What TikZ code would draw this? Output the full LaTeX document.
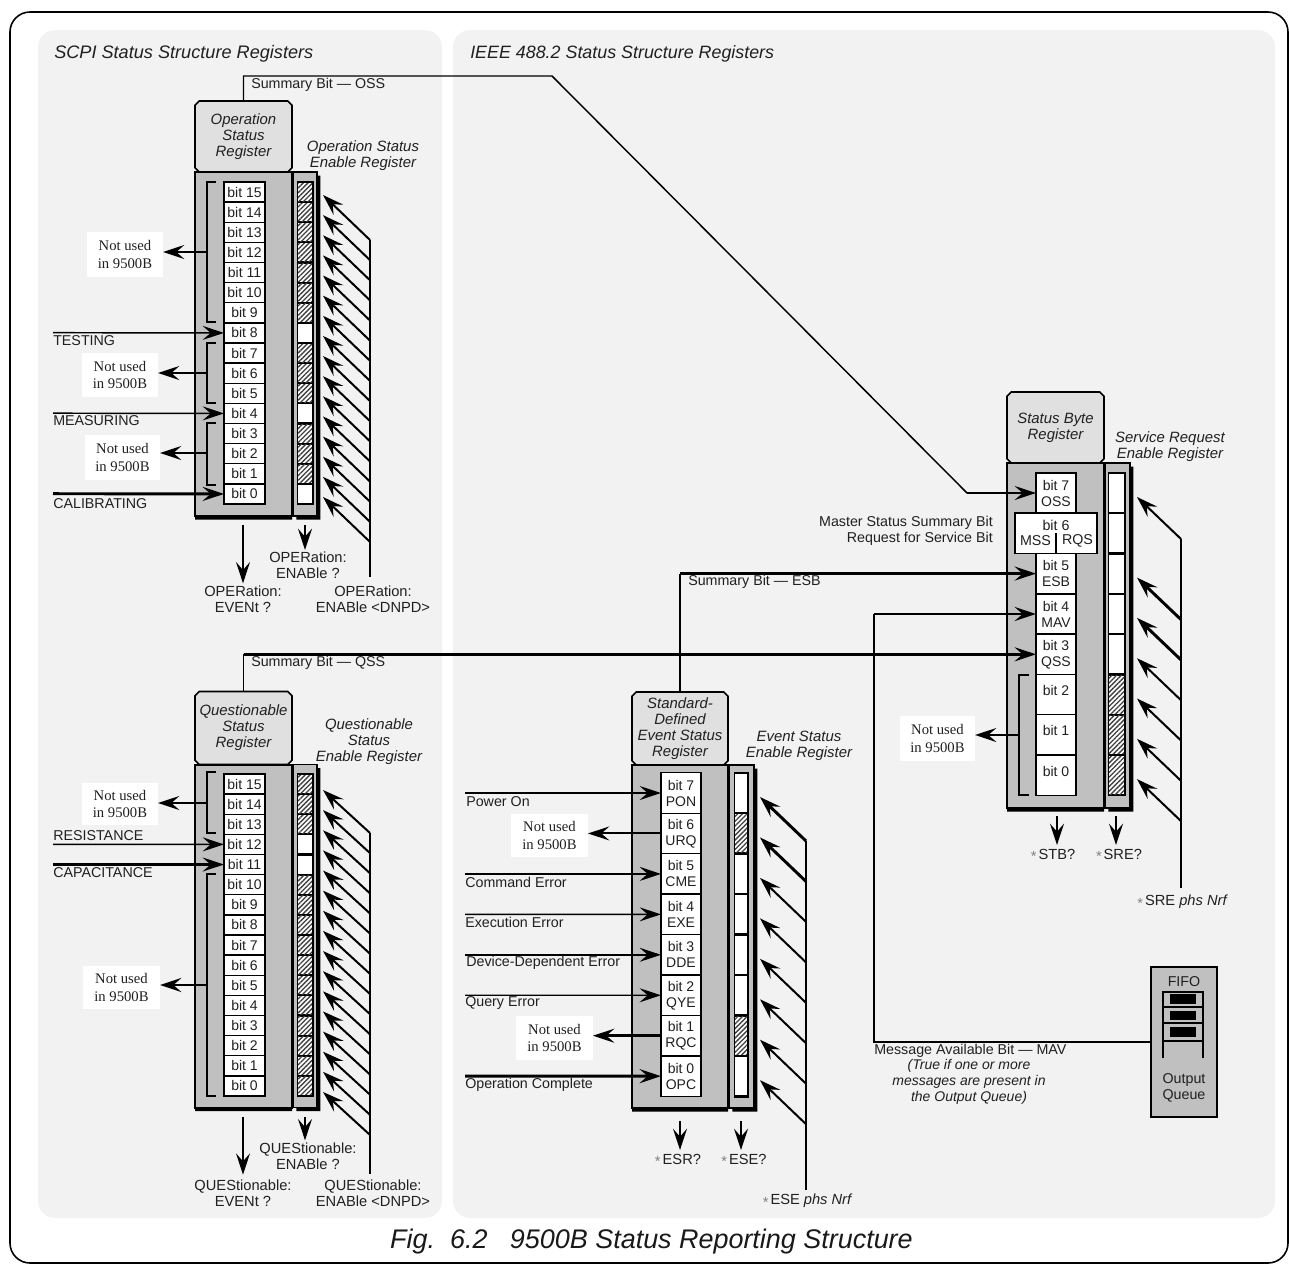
\documentclass[tikz,border=0pt]{standalone}
\usepackage{fontspec}
\setmainfont{Liberation Sans}
\newfontfamily\nuserif{Liberation Serif}
\usetikzlibrary{arrows.meta,shapes.misc,shadows,patterns.meta,calc}
\definecolor{panelbg}{HTML}{F2F2F2}
\definecolor{headbg}{HTML}{E0E0E0}
\definecolor{bodybg}{HTML}{C0C0C0}
\definecolor{inktxt}{HTML}{202020}
\newcommand{\sstar}{{\color{gray}\raisebox{-.3ex}{*}\kern1.5pt}}
\tikzset{
  x=0.75pt,y=-0.75pt,
  wh/.style 2 args={minimum width=#1*.75pt,minimum height=#2*.75pt,inner sep=0pt,outer sep=0pt},
  panel/.style={fill=panelbg,rounded corners=13pt},
  chbox/.style={chamfered rectangle,chamfered rectangle xsep=1.6pt,chamfered rectangle ysep=1.6pt,draw=black,line width=1.2pt},
  head/.style={chbox,fill=headbg,align=center,text=inktxt,font=\fontsize{11.2}{12}\selectfont\itshape},
  body/.style={chbox,fill=bodybg,line width=1.5pt,general shadow={fill=black,shadow yshift=-2.8pt}},
  enbody/.style={chbox,fill=bodybg,general shadow={fill=black,shadow yshift=-2.8pt,shadow xshift=2.6pt}},
  bitbox/.style={draw=black,line width=1pt,fill=white,align=center,text=inktxt,font=\fontsize{10.5}{12}\selectfont},
  cellon/.style={fill=white},
  cellhatch/.style={preaction={fill=white},pattern={Lines[angle=45,distance=2.5pt,line width=1pt]},pattern color=black!75},
  lbl/.style={inner sep=0pt,align=left,text=inktxt,font=\fontsize{10.7}{12}\selectfont},
  cmd/.style={inner sep=0pt,align=center,text=inktxt,font=\fontsize{11}{11.6}\selectfont},
  ttl/.style={inner sep=0pt,align=center,text=inktxt,font=\fontsize{11.2}{12}\selectfont\itshape},
  nubox/.style={fill=white,align=center,text=inktxt,font=\fontsize{11}{13.3}\selectfont\nuserif},
  wire/.style={line width=1.1pt,draw=black},
  arr/.style={-{Stealth[length=16pt,width=10.5pt,inset=6pt]},line width=1.1pt,draw=black},
  thickarr/.style={arr,line width=2.2pt},
  midarr/.style={arr,line width=1.5pt},
  brk/.style={line width=1.5pt,draw=black},
}
\begin{document}
\begin{tikzpicture}
\useasboundingbox (0,0) rectangle (1289,1264);
\fill[white] (0,0) rectangle (1289,1264);
\draw[line width=1.2pt,rounded corners=15pt] (10,12) rectangle (1288,1263);

% panels
\node[panel,wh={404}{1188}] (pLeft) at (240,624) {};
\node[panel,wh={822}{1188}] (pRight) at (864,624) {};
\node[inner sep=0pt,anchor=west,text=inktxt,font=\fontsize{13.6}{14}\selectfont\itshape] (tLeft) at (54,53.5) {SCPI Status Structure Registers};
\node[inner sep=0pt,anchor=west,text=inktxt,font=\fontsize{13.4}{14}\selectfont\itshape] (tRight) at (470,53.5) {IEEE 488.2 Status Structure Registers};
\node[inner sep=0pt,anchor=east,text=black!90,font=\fontsize{20.2}{22}\selectfont\itshape] (caption) at (913,1242) {Fig.~~6.2~~~9500B Status Reporting Structure};

%====== Operation register
\node[body,wh={97}{344}] (opB) at (243.5,344) {};
\node[enbody,wh={24}{344}] (opEB) at (305,344) {};
\node[head,wh={97}{71}] (opH) at (243.5,136.5) {Operation\\Status\\Register};
\fill[black] (296.5,181) rectangle (314,505);
\foreach \i in {15,14,...,0}{
  \pgfmathsetmacro{\yy}{192+20.13*(15-\i)}
  \node[bitbox,wh={41}{20.13}] (op\i) at (244.5,\yy) {bit \i};
}
\foreach \i/\st in {15/cellhatch,14/cellhatch,13/cellhatch,12/cellhatch,11/cellhatch,10/cellhatch,9/cellhatch,8/cellon,7/cellhatch,6/cellhatch,5/cellhatch,4/cellon,3/cellhatch,2/cellhatch,1/cellhatch,0/cellon}{
  \pgfmathsetmacro{\yy}{192+20.13*(15-\i)}
  \node[\st,wh={14}{18}] (opE\i) at (305,\yy) {};
  \draw[midarr] ([shift={(58,48)}]opE\i.east) -- ([shift={(11,3)}]opE\i.east);
}
\coordinate (opRa) at (370,240);
\coordinate (opRb) at (370,577);
\draw[wire] (opRa) -- (opRb);
\node[ttl] (opET) at (363,156) {Operation Status\\Enable Register};
% brackets
\coordinate (opK1) at (207,252);
\draw[brk] (216,182) -- (207,182) -- (207,322) -- (216,322);
\draw[brk] (216,343) -- (207,343) -- (207,403) -- (216,403);
\draw[brk] (216,423) -- (207,423) -- (207,485) -- (216,485);
\node[nubox,wh={76}{45}] (opN1) at (125,254.5) {Not used\\in 9500B};
\node[nubox,wh={76}{44}] (opN2) at (120,375) {Not used\\in 9500B};
\node[nubox,wh={75}{45}] (opN3) at (122.5,457.5) {Not used\\in 9500B};
\coordinate (opK2) at (207,373);
\coordinate (opK3) at (207,453);
\draw[arr] (opK1) -- (opN1.east |- opK1);
\draw[arr] (opK2) -- (opN2.east |- opK2);
\draw[arr] (opK3) -- (opN3.east |- opK3);
% inputs
\coordinate (inTest) at (53,332.7);
\coordinate (inMeas) at (53,413.2);
\coordinate (inCal) at (53,493.7);
\draw[arr] (inTest) -- (op8.west);
\draw[arr] (inMeas) -- (op4.west);
\draw[thickarr] (inCal) -- (op0.west);
\node[lbl,anchor=west] (lTest) at (53,341) {TESTING};
\node[lbl,anchor=west] (lMeas) at (53,421) {MEASURING};
\node[lbl,anchor=west] (lCal) at (53,504) {CALIBRATING};
% bottom
\coordinate (opA1) at (243,525);
\coordinate (opA2) at (305,525);
\node[cmd,anchor=north] (opC1) at (243,586) {OPERation:\\EVENt ?};
\node[cmd,anchor=north] (opC2) at (308,552) {OPERation:\\ENABle ?};
\node[cmd,anchor=north] (opC3) at (373,586) {OPERation:\\ENABle <DNPD>};
\draw[arr,shorten >=2pt] (opA1) -- (opC1.north -| opA1);
\draw[arr,shorten >=1.5pt] (opA2) -- (opC2.north -| opA2);

%====== Questionable register
\node[body,wh={97}{343}] (qB) at (243.5,936) {};
\node[enbody,wh={24}{343}] (qEB) at (305,936) {};
\node[head,wh={97}{73}] (qH) at (243.5,728) {Questionable\\Status\\Register};
\fill[black] (296.5,773) rectangle (314,1097);
\foreach \i in {15,14,...,0}{
  \pgfmathsetmacro{\yy}{784+20.13*(15-\i)}
  \node[bitbox,wh={41}{20.13}] (q\i) at (244.5,\yy) {bit \i};
}
\foreach \i/\st in {15/cellhatch,14/cellhatch,13/cellhatch,12/cellon,11/cellon,10/cellhatch,9/cellhatch,8/cellhatch,7/cellhatch,6/cellhatch,5/cellhatch,4/cellhatch,3/cellhatch,2/cellhatch,1/cellhatch,0/cellhatch}{
  \pgfmathsetmacro{\yy}{784+20.13*(15-\i)}
  \node[\st,wh={14}{18}] (qE\i) at (305,\yy) {};
  \draw[midarr] ([shift={(58,49)}]qE\i.east) -- ([shift={(11,6)}]qE\i.east);
}
\coordinate (qRa) at (370,833);
\coordinate (qRb) at (370,1174);
\draw[wire] (qRa) -- (qRb);
\node[ttl] (qET) at (369,742) {Questionable\\Status\\Enable Register};
\draw[brk] (216,772) -- (207,772) -- (207,833) -- (216,833);
\draw[brk] (216,874) -- (207,874) -- (207,1096) -- (216,1096);
\node[nubox,wh={76}{42}] (qN1) at (120,804) {Not used\\in 9500B};
\node[nubox,wh={77}{43}] (qN2) at (121.5,987.5) {Not used\\in 9500B};
\coordinate (qK1) at (207,803);
\coordinate (qK2) at (207,985);
\draw[arr] (qK1) -- (qN1.east |- qK1);
\draw[thickarr] (qK2) -- (qN2.east |- qK2);
\coordinate (inRes) at (53,844.4);
\coordinate (inCap) at (53,864.5);
\draw[arr] (inRes) -- (q12.west);
\draw[thickarr] (inCap) -- (q11.west);
\node[lbl,anchor=west] (lRes) at (53,836) {RESISTANCE};
\node[lbl,anchor=west] (lCap) at (53,873) {CAPACITANCE};
\coordinate (qA1) at (243,1117);
\coordinate (qA2) at (305,1117);
\node[cmd,anchor=north] (qC1) at (243,1180) {QUEStionable:\\EVENt ?};
\node[cmd,anchor=north] (qC2) at (308,1143) {QUEStionable:\\ENABle ?};
\node[cmd,anchor=north] (qC3) at (373,1180) {QUEStionable:\\ENABle <DNPD>};
\draw[arr,shorten >=4pt] (qA1) -- (qC1.north -| qA1);
\draw[arr,shorten >=2pt] (qA2) -- (qC2.north -| qA2);

%====== Event status register
\node[body,wh={96}{343}] (evB) at (680,936.5) {};
\node[enbody,wh={25}{343}] (evEB) at (741.5,936.5) {};
\node[head,wh={96}{73}] (evH) at (680,728.5) {Standard-\\Defined\\Event Status\\Register};
\fill[black] (733.5,772) rectangle (749,1098);
\foreach \i/\n in {7/PON,6/URQ,5/CME,4/EXE,3/DDE,2/QYE,1/RQC,0/OPC}{
  \pgfmathsetmacro{\yy}{793+40.45*(7-\i)}
  \node[bitbox,wh={40}{40.45}] (ev\i) at (681,\yy) {bit \i\\\n};
}
\foreach \i/\st/\s in {7/cellon/thickarr,6/cellhatch/thickarr,5/cellon/midarr,4/cellon/midarr,3/cellon/midarr,2/cellon/midarr,1/cellhatch/midarr,0/cellon/midarr}{
  \pgfmathsetmacro{\yy}{793+40.45*(7-\i)}
  \node[\st,wh={12}{38}] (evE\i) at (741,\yy) {};
  \draw[\s] ([shift={(59,48)}]evE\i.east) -- ([shift={(13,4)}]evE\i.east);
}
\coordinate (evRa) at (806,841);
\coordinate (evRb) at (806,1190);
\draw[wire] (evRa) -- (evRb);
\node[ttl] (evET) at (799,746) {Event Status\\Enable Register};
\node[nubox,wh={77}{43}] (evN1) at (549.5,835.5) {Not used\\in 9500B};
\node[nubox,wh={77}{44}] (evN2) at (554.5,1038) {Not used\\in 9500B};
\draw[midarr] (ev6.west) -- (evN1.east |- ev6.west);
\draw[thickarr] (ev1.west) -- (evN2.east |- ev1.west);
\foreach \i/\n/\y/\s in {7/iPow/793/arr,5/iCmd/873.9/arr,4/iExe/914.35/arr,3/iDev/954.8/arr,2/iQue/995.25/arr,0/iOpc/1076.15/thickarr}{
  \coordinate (\n) at (465,\y);
  \draw[\s] (\n) -- (ev\i.west);
}
\node[lbl,anchor=west] (lPow) at (466,802) {Power On};
\node[lbl,anchor=west] (lCmd) at (465,882) {Command Error};
\node[lbl,anchor=west] (lExe) at (465,922) {Execution Error};
\node[lbl,anchor=west] (lDev) at (466,963) {Device-Dependent Error};
\node[lbl,anchor=west] (lQue) at (465,1003) {Query Error};
\node[lbl,anchor=west] (lOpc) at (465,1085) {Operation Complete};
\coordinate (evA1) at (680,1121);
\coordinate (evA2) at (741,1121);
\node[cmd,anchor=north] (evC1) at (678,1154) {\sstar ESR?};
\node[cmd,anchor=north] (evC2) at (744,1154) {\sstar ESE?};
\node[cmd,anchor=north] (evC3) at (807,1194) {\sstar ESE {\itshape phs Nrf}};
\coordinate (evT1) at (680,1150);
\coordinate (evT2) at (741,1150);
\draw[arr] (evA1) -- (evT1);
\draw[arr] (evA2) -- (evT2);

%====== Status byte register
\node[body,wh={97}{345}] (sbB) at (1055.5,635.5) {};
\node[enbody,wh={25}{345}] (sbEB) at (1117.5,635.5) {};
\node[head,wh={97}{71}] (sbH) at (1055.5,427.5) {Status Byte\\Register};
\fill[black] (1107.5,472) rectangle (1126,796);
\foreach \i/\t/\yy in {7/{bit 7\\OSS}/493,5/{bit 5\\ESB}/573.6,4/{bit 4\\MAV}/614,3/{bit 3\\QSS}/654.3,2/{\raisebox{6pt}{bit 2}}/694.6,1/{\raisebox{6pt}{bit 1}}/734.9,0/{\raisebox{6pt}{bit 0}}/775.2}{
  \node[bitbox,wh={40}{40.3}] (sb\i) at (1056,\yy) {\t};
}
\node[bitbox,wh={82}{40.3},draw=none,fill=white] (sb6) at (1056,533.3) {};
\draw[line width=1pt] (sb6.north west) rectangle (sb6.south east);
\draw[line width=2.2pt] (sb6.north west) -- (sb6.south west);
\node[lbl,anchor=center] (sb6a) at (1056,525) {bit 6};
\node[lbl,anchor=center] (sb6b) at (1035.5,541) {MSS};
\node[lbl,anchor=center] (sb6c) at (1077.5,541) {RQS};
\coordinate (sbDiv) at (1056,533);
\draw[line width=1pt] (sbDiv) -- (sb6.south);
\foreach \i/\st in {7/cellon,6/cellon,5/cellon,4/cellon,3/cellon,2/cellhatch,1/cellhatch,0/cellhatch}{
  \pgfmathsetmacro{\yy}{493+40.3*(7-\i)}
  \node[\st,wh={15}{38}] (sbE\i) at (1116.5,\yy) {};
}
\foreach \i/\s in {7/midarr,5/thickarr,4/thickarr,3/midarr,2/midarr,1/midarr,0/midarr}{
  \draw[\s] ([shift={(57,46)}]sbE\i.east) -- ([shift={(13,4)}]sbE\i.east);
}
\coordinate (sbRa) at (1181,539);
\coordinate (sbRb) at (1181,888);
\draw[wire] (sbRa) -- (sbRb);
\node[ttl] (sbET) at (1170,447) {Service Request\\Enable Register};
\node[lbl,anchor=east,align=right] (lMaster) at (993,531) {Master Status Summary Bit\\Request for Service Bit};
\draw[brk] (1029,675) -- (1019,675) -- (1019,795) -- (1029,795);
\node[nubox,wh={75}{45}] (sbN) at (937.5,738.5) {Not used\\in 9500B};
\coordinate (sbK) at (1019,735);
\draw[arr] (sbK) -- (sbN.east |- sbK);
\coordinate (sbA1) at (1057,816);
\coordinate (sbA2) at (1116,816);
\coordinate (sbT1) at (1057,845);
\coordinate (sbT2) at (1116,845);
\node[cmd,anchor=north] (sbC1) at (1053,849) {\sstar STB?};
\node[cmd,anchor=north] (sbC2) at (1119,849) {\sstar SRE?};
\node[cmd,anchor=north] (sbC3) at (1182,895) {\sstar SRE {\itshape phs Nrf}};
\draw[arr] (sbA1) -- (sbT1);
\draw[arr] (sbA2) -- (sbT2);

%====== Summary connectors
\coordinate (ossA) at (243.5,76);
\coordinate (ossB) at (552,76);
\coordinate (ossC) at (967,493);
\draw[wire] (opH.north) -- (ossA) -- (ossB) -- (ossC);
\draw[arr] (ossC) -- (sb7.west);
\node[lbl,anchor=west] (lOss) at (251,85) {Summary Bit — OSS};
\coordinate (qssA) at (243.5,654.3);
\draw[wire] (qH.north) -- (qssA);
\draw[thickarr] (qssA) -- (sb3.west);
\node[lbl,anchor=west] (lQss) at (251,663) {Summary Bit — QSS};
\coordinate (esbA) at (680,573.6);
\draw[wire] (evH.north) -- (esbA);
\draw[thickarr] (esbA) -- (sb5.west);
\node[lbl,anchor=west] (lEsb) at (688,582) {Summary Bit — ESB};

%====== FIFO
\node[chbox,fill=bodybg,wh={66}{150}] (fifo) at (1184,1042) {};
\node[lbl,anchor=center] (lFifo) at (1184,982) {FIFO};
\draw[line width=.9pt] (1163,1058) -- (1163,992) -- (1203,992) -- (1203,1058);
\draw[line width=.9pt] (1163,1007) -- (1203,1007);
\draw[line width=1.3pt] (1163,1023) -- (1203,1023);
\draw[line width=.9pt] (1163,1041) -- (1203,1041);
\fill[black] (1170,994) rectangle (1196,1004);
\fill[black] (1170,1011) rectangle (1196,1020);
\fill[black] (1170,1027) rectangle (1196,1037);
\node[lbl,anchor=center,align=center] (lOut) at (1184,1088) {Output\\Queue};
\coordinate (mavA) at (874,1042);
\coordinate (mavB) at (874,614);
\draw[wire] (fifo.west |- mavA) -- (mavA) -- (mavB);
\draw[thickarr] (mavB) -- (sb4.west);
\node[lbl,anchor=west] (lMav) at (874,1051) {Message Available Bit — MAV};
\node[lbl,align=center,font=\fontsize{10.5}{11.8}\selectfont\itshape] (lTrue) at (969,1082) {(True if one or more\\messages are present in\\the Output Queue)};
\end{tikzpicture}
\end{document}
